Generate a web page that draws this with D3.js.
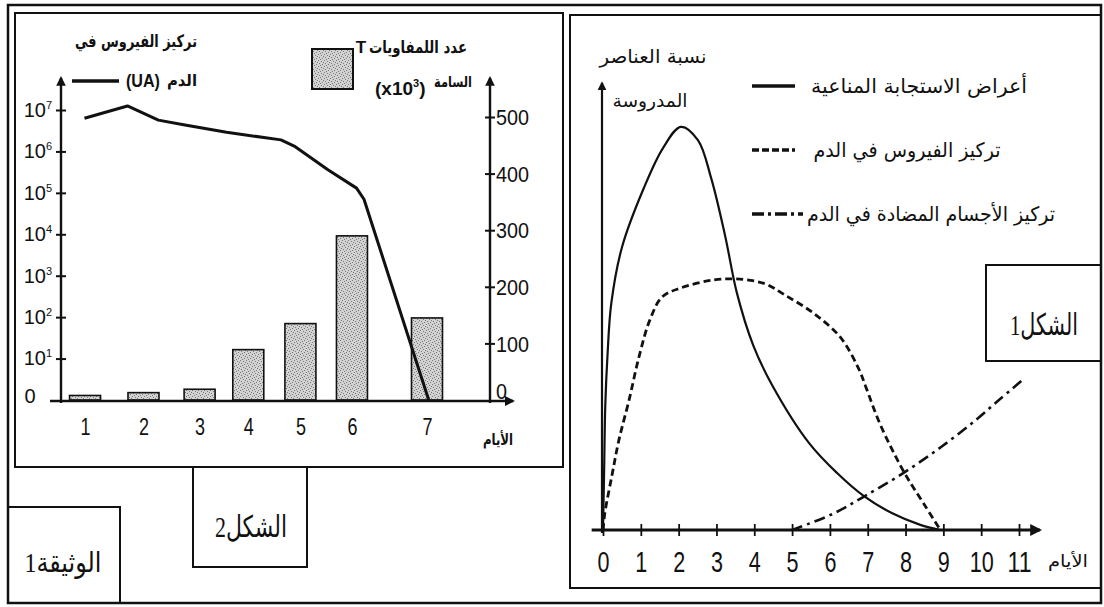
<!DOCTYPE html>
<html>
<head>
<meta charset="utf-8">
<script src="https://cdn.jsdelivr.net/npm/d3@7"></script>
<style>
  body { margin: 0; background: #fff; }
  svg { display: block; }
  .num { font-family: "Liberation Sans Narrow", "Liberation Sans", sans-serif; }
  .ar { font-family: "DejaVu Sans", sans-serif; }
  .serif { font-family: "Liberation Serif", "DejaVu Sans", serif; }
</style>
</head>
<body>
<svg id="chart" width="1104" height="607"></svg>
<script>
// ---- figure 2 (left): T cells bars + virus load line (log) ----
const days2 = ['1', '2', '3', '4', '5', '6', '7'];
const dayPos2 = [1, 2.02, 3.0, 3.85, 4.76, 5.66, 6.97];   // hand-drawn axis is irregular
const tCells = [8, 13, 19, 89, 135, 290, 145];            // x10^3
const virusDay = [0.99, 1.74, 2.28, 2.72, 3.47, 4.42, 4.67, 5.24, 5.74, 5.87, 7.0];
const virusLoad = [6.3e6, 1.25e7, 5.7e6, 4.4e6, 2.9e6, 1.9e6, 1.3e6, 3.6e5, 1.3e5, 7e4, 1];
const logTicks = [1, 1e1, 1e2, 1e3, 1e4, 1e5, 1e6, 1e7];
const tTicks = [0, 100, 200, 300, 400, 500];

// ---- figure 1 (right): relative levels over days ----
const days1 = [0, 1, 2, 3, 4, 5, 6, 7, 8, 9, 10, 11];
const immuneDay = [0, 0.03, 0.06, 0.12, 0.22, 0.5, 1.08, 1.59, 2.06, 2.51, 2.86, 3.23, 3.54, 3.97, 4.47, 5.45, 6.19, 6.9, 7.65, 8.39, 8.92];
const immuneVal = [0, 14, 29, 41, 53, 66, 79.9, 89.3, 94.2, 91.1, 82.2, 68.7, 55.4, 43.2, 33.9, 20.3, 13.3, 7.9, 3.9, 1.2, 0];
const virusDay1 = [0, 0.05, 0.24, 0.42, 0.69, 0.95, 1.24, 1.56, 2.04, 2.91, 3.62, 4.29, 4.81, 5.56, 6.27, 6.75, 6.96, 7.28, 7.65, 8.02, 8.47, 8.92];
const virusVal1 = [0, 4, 12.9, 21, 30.4, 40.4, 49.1, 54.4, 56.5, 58.4, 58.6, 57.5, 54.9, 50.7, 45.1, 37.9, 33.2, 25.7, 18.7, 12.6, 6.3, 0];
const abDay = [5.0, 5.21, 6.06, 6.88, 7.94, 8.94, 9.86, 10.5, 11.06];
const abVal = [0, 0.7, 3.7, 7.7, 13.3, 19.4, 25.7, 30.6, 34.8];

const legend1 = ['أعراض الاستجابة المناعية', 'تركيز الفيروس في الدم', 'تركيز الأجسام المضادة في الدم'];

const svg = d3.select('#chart');
const ink = '#111';
const defs = svg.append('defs');

defs.append('marker')
  .attr('id', 'arrow')
  .attr('viewBox', '0 0 10 10')
  .attr('refX', 8).attr('refY', 5)
  .attr('markerWidth', 4).attr('markerHeight', 4)
  .attr('orient', 'auto')
  .append('path').attr('d', 'M0,0L10,5L0,10z').attr('fill', ink);

const pat = defs.append('pattern')
  .attr('id', 'stipple')
  .attr('width', 6).attr('height', 6)
  .attr('patternUnits', 'userSpaceOnUse');
pat.append('rect').attr('width', 6).attr('height', 6).attr('fill', '#d2d2d2');
[[0, 0], [3, 1], [1, 3], [4, 4], [2, 5], [5, 2]].forEach(function (p) {
  pat.append('rect').attr('x', p[0]).attr('y', p[1]).attr('width', 1).attr('height', 1).attr('fill', '#7a7a7a');
});

function text(g, str, cx, y, w, size, cls, weight) {
  const t = g.append('text')
    .attr('class', cls)
    .attr('x', cx).attr('y', y)
    .attr('text-anchor', 'middle')
    .attr('font-size', size)
    .attr('font-weight', weight || 'normal')
    .attr('fill', ink)
    .text(str);
  if (w) t.attr('textLength', w).attr('lengthAdjust', 'spacingAndGlyphs');
  return t;
}

// squeeze digits to look like the condensed face of the scan
function narrow(sel, perChar) {
  sel.attr('lengthAdjust', 'spacingAndGlyphs')
    .attr('textLength', function () { return this.textContent.length * perChar; });
}

function box(x0, y0, x1, y1, sw) {
  svg.append('rect')
    .attr('x', x0).attr('y', y0)
    .attr('width', x1 - x0).attr('height', y1 - y0)
    .attr('fill', 'none').attr('stroke', ink).attr('stroke-width', sw);
}

// frames
box(8, 5, 1101, 603, 2.5);
box(15, 13, 563, 467, 2);
box(570, 15, 1101, 588, 2);
svg.append('rect').attr('x', 193).attr('y', 467).attr('width', 114).attr('height', 100)
  .attr('fill', '#fff').attr('stroke', ink).attr('stroke-width', 2);
box(8, 507, 120, 603, 2);
box(986, 265, 1101, 361, 2);

text(svg, 'الشكل2', 251, 537, 72, 30, 'serif');
text(svg, 'الوثيقة1', 63, 572, 77, 28, 'serif');
text(svg, 'الشكل1', 1044, 335, 68, 30, 'serif');

// ================= figure 2 =================
const g2 = svg.append('g');
const x2 = d3.scaleLinear().domain([0.58, 8.07]).range([61, 490]);
const yV = d3.scaleLog().domain([1, 1e7]).range([400, 110]);
const yT = d3.scaleLinear().domain([0, 500]).range([400, 117]);
const barW = 31;

g2.selectAll('rect.bar')
  .data(tCells)
  .join('rect')
  .attr('class', 'bar')
  .attr('x', (d, i) => x2(dayPos2[i]) - barW / 2)
  .attr('y', d => yT(d))
  .attr('width', barW)
  .attr('height', d => yT(0) - yT(d))
  .attr('fill', 'url(#stipple)')
  .attr('stroke', ink)
  .attr('stroke-width', 1.6);

// axes lines with arrows
const base2 = yV(1);
g2.append('line')
  .attr('x1', x2.range()[0] - 11).attr('y1', base2 + 1)
  .attr('x2', x2.range()[1] + 23).attr('y2', base2 + 1)
  .attr('stroke', ink).attr('stroke-width', 2.6).attr('marker-end', 'url(#arrow)');
[x2.range()[0], x2.range()[1]].forEach(function (xx) {
  g2.append('line')
    .attr('x1', xx).attr('y1', base2 + 3)
    .attr('x2', xx).attr('y2', 78)
    .attr('stroke', ink).attr('stroke-width', 2.4).attr('marker-end', 'url(#arrow)');
});

// left log axis
const axL = g2.append('g')
  .attr('transform', `translate(${x2.range()[0]},0)`)
  .call(d3.axisLeft(yV).tickValues(logTicks).tickSize(5).tickFormat(''));
axL.select('.domain').remove();
axL.selectAll('.tick line')
  .attr('x1', -5).attr('x2', 5)
  .attr('stroke', ink).attr('stroke-width', 2)
  .attr('display', d => d === 1 ? 'none' : null);
axL.selectAll('.tick').each(function (d) {
  const t = d3.select(this).select('text')
    .attr('class', 'num')
    .attr('fill', ink)
    .attr('font-size', 20);
  if (d === 1) {
    t.attr('x', -31).attr('text-anchor', 'middle').attr('dy', '0.1em').text('0');
  } else {
    t.attr('x', -9).attr('text-anchor', 'end');
    t.append('tspan').text('10');
    t.append('tspan').attr('dy', -8).attr('font-size', 11).text(Math.round(Math.log10(d)));
  }
});

// right linear axis
const axR = g2.append('g')
  .attr('transform', `translate(${x2.range()[1]},0)`)
  .call(d3.axisRight(yT).tickValues(tTicks).tickSize(5));
axR.select('.domain').remove();
axR.selectAll('.tick line')
  .attr('x1', -5).attr('x2', 5)
  .attr('stroke', ink).attr('stroke-width', 2)
  .attr('display', d => d === 0 ? 'none' : null);
axR.selectAll('.tick text')
  .attr('class', 'num')
  .attr('x', 6)
  .attr('fill', ink)
  .attr('font-size', 22)
  .attr('dy', d => d === 0 ? '-0.05em' : '0.35em')
  .call(narrow, 11);

// day labels
const axB2 = g2.append('g')
  .attr('transform', `translate(0,${base2})`)
  .call(d3.axisBottom(x2).tickValues(dayPos2).tickSize(0).tickFormat((d, i) => days2[i]));
axB2.select('.domain').remove();
axB2.selectAll('.tick text')
  .attr('class', 'num')
  .attr('y', 35).attr('dy', null)
  .attr('fill', ink)
  .attr('font-size', 24)
  .call(narrow, 10);
text(g2, 'الأيام', 498, 445, 30, 16, 'ar', 'bold');

// virus load line
const vPts = virusDay.map((d, i) => [d, virusLoad[i]]);
g2.append('path')
  .datum(vPts)
  .attr('d', d3.line().x(d => x2(d[0])).y(d => yV(d[1])))
  .attr('fill', 'none')
  .attr('stroke', ink)
  .attr('stroke-width', 3)
  .attr('stroke-linejoin', 'round');

// legend of figure 2
text(g2, 'تركيز الفيروس في', 136, 47, 122, 17, 'ar', 'bold');
g2.append('line').attr('x1', 72).attr('x2', 119).attr('y1', 81).attr('y2', 81)
  .attr('stroke', ink).attr('stroke-width', 3.5);
text(g2, '(UA)', 143, 87, 34, 18, 'num', 'bold');
text(g2, 'الدم', 182, 86, 30, 16, 'ar', 'bold');

g2.append('rect').attr('x', 312).attr('y', 49).attr('width', 41).attr('height', 40)
  .attr('fill', 'url(#stipple)').attr('stroke', ink).attr('stroke-width', 2);
text(g2, 'T', 361, 53, null, 17, 'num', 'bold');
text(g2, 'عدد اللمفاويات', 418, 53, 98, 17, 'ar', 'bold');
text(g2, 'السامة', 453, 87, 38, 15, 'ar', 'bold');
const xu = g2.append('text')
  .attr('class', 'num').attr('x', 375).attr('y', 95)
  .attr('font-size', 19).attr('font-weight', 'bold').attr('fill', ink);
xu.append('tspan').text('(x10');
xu.append('tspan').attr('dy', -8).attr('font-size', 11).text('3');
xu.append('tspan').attr('dy', 8).text(')');

// ================= figure 1 =================
const g1 = svg.append('g');
const x1 = d3.scaleLinear().domain([0, 11]).range([603, 1019]);
const y1 = d3.scaleLinear().domain([0, 100]).range([530, 102]);

g1.append('line')
  .attr('x1', x1(-0.3)).attr('y1', y1(0))
  .attr('x2', x1(11.55)).attr('y2', y1(0))
  .attr('stroke', ink).attr('stroke-width', 3).attr('marker-end', 'url(#arrow)');
g1.append('line')
  .attr('x1', x1(0) - 1).attr('y1', y1(0) + 3)
  .attr('x2', x1(0) - 1).attr('y2', 83)
  .attr('stroke', ink).attr('stroke-width', 2.2).attr('marker-end', 'url(#arrow)');

const axB1 = g1.append('g')
  .attr('transform', `translate(0,${y1(0)})`)
  .call(d3.axisBottom(x1).tickValues(days1).tickSize(6));
axB1.select('.domain').remove();
axB1.selectAll('.tick line')
  .attr('y1', -6).attr('y2', 6)
  .attr('stroke', ink).attr('stroke-width', 1.8);
axB1.selectAll('.tick text')
  .attr('class', 'num')
  .attr('y', 42).attr('dy', null)
  .attr('fill', ink)
  .attr('font-size', 29)
  .call(narrow, 12);
text(g1, 'الأيام', 1068, 567, 40, 17, 'ar');

text(g1, 'نسبة العناصر', 653, 63, 107, 19, 'ar');
text(g1, 'المدروسة', 650, 107, 75, 18, 'ar');

const curve = d3.line()
  .x(d => x1(d[0]))
  .y(d => y1(d[1]))
  .curve(d3.curveCatmullRom.alpha(0.5));

const series = [
  { days: immuneDay, vals: immuneVal, width: 2.2, dash: null },
  { days: virusDay1, vals: virusVal1, width: 2.8, dash: '7,4' },
  { days: abDay, vals: abVal, width: 2.6, dash: '11,5,3,5' }
];

series.forEach(function (s) {
  g1.append('path')
    .datum(s.days.map((d, i) => [d, s.vals[i]]))
    .attr('d', curve)
    .attr('fill', 'none')
    .attr('stroke', ink)
    .attr('stroke-width', s.width)
    .attr('stroke-dasharray', s.dash);
});

// legend of figure 1
const legY = [86, 150, 214];
const legCx = [919, 907, 931];
const legW = [216, 187, 248];
series.forEach(function (s, i) {
  g1.append('line')
    .attr('x1', 752).attr('x2', i === 2 ? 803 : 795)
    .attr('y1', legY[i]).attr('y2', legY[i])
    .attr('stroke', ink).attr('stroke-width', 3.5)
    .attr('stroke-dasharray', i === 1 ? '7,3' : (i === 2 ? '12,4,3,4' : null));
  text(g1, legend1[i], legCx[i], legY[i] + 7, legW[i], 20, 'ar');
});
</script>
</body>
</html>
